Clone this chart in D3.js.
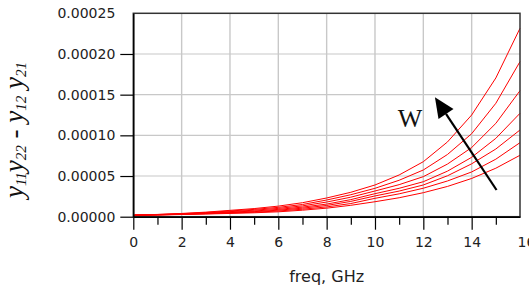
<!DOCTYPE html>
<html lang="en">
<head>
  <meta charset="UTF-8">
  <title>y11y22 - y12y21 vs freq</title>
  <script src="https://d3js.org/d3.v7.min.js"></script>
  <style>
    body {
      margin: 0;
      background: #fff;
    }

    svg {
      display: block;
    }

    .tick text {
      font-family: "DejaVu Sans", sans-serif;
      font-size: 14px;
      fill: #222;
    }
  </style>
</head>
<body>
  <svg width="529" height="286"></svg>

  <script>
    // values are in units of 1e-5, one curve per W (smallest W first)
    const freq = [0.05, 1, 2, 3, 4, 5, 6, 7, 8, 9, 10, 11, 12, 13, 14, 15, 16];
    const w1 = [0.17, 0.21, 0.27, 0.33, 0.40, 0.48, 0.60, 0.80, 1.05, 1.40, 1.84, 2.33, 2.95, 3.72, 4.70, 5.96, 7.55];
    const w2 = [0.18, 0.22, 0.29, 0.36, 0.45, 0.55, 0.70, 0.92, 1.20, 1.62, 2.26, 2.81, 3.50, 4.39, 5.50, 7.07, 9.10];
    const w3 = [0.18, 0.23, 0.30, 0.39, 0.50, 0.62, 0.80, 1.05, 1.38, 1.88, 2.55, 3.15, 3.90, 5.03, 6.50, 8.32, 10.66];
    const w4 = [0.19, 0.24, 0.32, 0.42, 0.55, 0.70, 0.90, 1.18, 1.55, 2.10, 2.83, 3.49, 4.30, 5.60, 7.30, 9.63, 12.71];
    const w5 = [0.19, 0.25, 0.34, 0.46, 0.62, 0.80, 1.02, 1.33, 1.80, 2.40, 3.16, 3.94, 4.92, 6.47, 8.50, 11.47, 15.49];
    const w6 = [0.20, 0.27, 0.37, 0.51, 0.70, 0.90, 1.15, 1.50, 2.05, 2.70, 3.49, 4.48, 5.74, 7.65, 10.20, 13.94, 19.06];
    const w7 = [0.20, 0.28, 0.40, 0.56, 0.78, 1.00, 1.30, 1.72, 2.30, 3.00, 3.90, 5.13, 6.76, 9.19, 12.50, 17.05, 23.16];
    const UNIT = 1e-5;

    const xTicks = [0, 2, 4, 6, 8, 10, 12, 14, 16];
    const xMinorTicks = [1, 3, 5, 7, 9, 11, 13, 15];
    const yTicks = [0, 0.00005, 0.0001, 0.00015, 0.0002, 0.00025];

    // arrow annotation, in data units [GHz, value]
    const arrowFrom = [15.03, 0.0000328];
    const arrowTo = [12.48, 0.0001468];
    const wLabelAt = [11.45, 0.00011];

    const svg = d3.select("svg");
    const plotL = 133.3, plotR = 520, plotT = 13.3, plotB = 216.7;

    const x = d3.scaleLinear().domain([0, 16]).range([plotL, plotR]);
    const y = d3.scaleLinear().domain([0, 0.00025]).range([plotB, plotT]);

    // grid
    svg.append("g")
      .selectAll("line")
      .data(xTicks.slice(1, -1))
      .join("line")
      .attr("x1", d => x(d)).attr("x2", d => x(d))
      .attr("y1", plotT).attr("y2", plotB)
      .attr("stroke", "#c8c8c8")
      .attr("stroke-width", 1.4);

    svg.append("g")
      .selectAll("line")
      .data(yTicks.slice(1, -1))
      .join("line")
      .attr("x1", plotL).attr("x2", plotR)
      .attr("y1", d => y(d)).attr("y2", d => y(d))
      .attr("stroke", "#c8c8c8")
      .attr("stroke-width", 1.2);

    // curves
    const line = d3.line()
      .x((d, i) => x(freq[i]))
      .y(d => y(d * UNIT));

    svg.append("g")
      .selectAll("path")
      .data([w1, w2, w3, w4, w5, w6, w7])
      .join("path")
      .attr("d", line)
      .attr("fill", "none")
      .attr("stroke", "#ff0000")
      .attr("stroke-width", 1);

    // frame
    svg.append("rect")
      .attr("x", plotL).attr("y", plotT)
      .attr("width", plotR - plotL).attr("height", plotB - plotT)
      .attr("fill", "none")
      .attr("stroke", "#333")
      .attr("stroke-width", 1.5);

    // axes
    const xAxis = svg.append("g")
      .attr("transform", `translate(0,${plotB})`)
      .call(d3.axisBottom(x).tickValues(xTicks).tickSize(13).tickSizeOuter(0).tickPadding(7).tickFormat(d3.format("d")));
    xAxis.selectAll(".tick line").filter(d => d === 16).remove();
    // the last label runs off the right edge, as in the original
    xAxis.selectAll(".tick text").filter(d => d === 16).attr("text-anchor", "start").attr("x", -3);

    const xMinor = svg.append("g")
      .attr("transform", `translate(0,${plotB})`)
      .call(d3.axisBottom(x).tickValues(xMinorTicks).tickSize(8).tickSizeOuter(0).tickFormat(""));
    xMinor.select(".domain").remove();

    const yAxis = svg.append("g")
      .attr("transform", `translate(${plotL},0)`)
      .call(d3.axisLeft(y).tickValues(yTicks).tickSize(13).tickSizeOuter(0).tickPadding(5).tickFormat(d3.format(".5f")));
    yAxis.selectAll(".tick line").filter(d => d === 0.00025).remove();

    svg.selectAll(".domain").attr("stroke", "#000").attr("stroke-width", 1.5);
    svg.selectAll(".tick line").attr("stroke", "#000").attr("stroke-width", 1.2);

    // axis titles
    svg.append("text")
      .attr("x", (plotL + plotR) / 2)
      .attr("y", 281.7)
      .attr("text-anchor", "middle")
      .attr("font-family", "DejaVu Sans, sans-serif")
      .attr("font-size", 16)
      .attr("fill", "#222")
      .text("freq, GHz");

    const yTitle = svg.append("text")
      .attr("transform", "translate(23.3,130) rotate(-90)")
      .attr("text-anchor", "middle")
      .attr("font-family", "Liberation Serif, serif")
      .attr("font-style", "italic")
      .attr("font-size", 27)
      .attr("fill", "#111")
      .style("white-space", "pre");

    const titleParts = [["y", 0], ["11", 1], ["y", 0], ["22", 1], [" - ", 0], ["y", 0], ["12", 1], [" ", 0], ["y", 0], ["21", 1]];
    let shifted = false;
    titleParts.forEach(([t, sub]) => {
      const span = yTitle.append("tspan").text(t);
      if (sub) {
        span.attr("font-size", 15);
        if (!shifted) span.attr("dy", 3);
        shifted = true;
      } else if (shifted) {
        span.attr("dy", -3);
        shifted = false;
      }
    });

    // W arrow
    const p0 = [x(arrowFrom[0]), y(arrowFrom[1])];
    const p1 = [x(arrowTo[0]), y(arrowTo[1])];
    const len = Math.hypot(p1[0] - p0[0], p1[1] - p0[1]);
    const ux = (p1[0] - p0[0]) / len, uy = (p1[1] - p0[1]) / len;
    const headLen = 20, headHalf = 9;
    const base = [p1[0] - ux * headLen, p1[1] - uy * headLen];

    svg.append("line")
      .attr("x1", p0[0]).attr("y1", p0[1])
      .attr("x2", base[0]).attr("y2", base[1])
      .attr("stroke", "#000")
      .attr("stroke-width", 2.2);

    svg.append("polygon")
      .attr("points", [
        p1,
        [base[0] - uy * headHalf, base[1] + ux * headHalf],
        [base[0] + uy * headHalf, base[1] - ux * headHalf]
      ].map(p => p.join(",")).join(" "))
      .attr("fill", "#000");

    svg.append("text")
      .attr("x", x(wLabelAt[0]))
      .attr("y", y(wLabelAt[1]))
      .attr("text-anchor", "middle")
      .attr("font-family", "Liberation Serif, serif")
      .attr("font-size", 26)
      .attr("fill", "#111")
      .text("W");
  </script>
</body>
</html>
